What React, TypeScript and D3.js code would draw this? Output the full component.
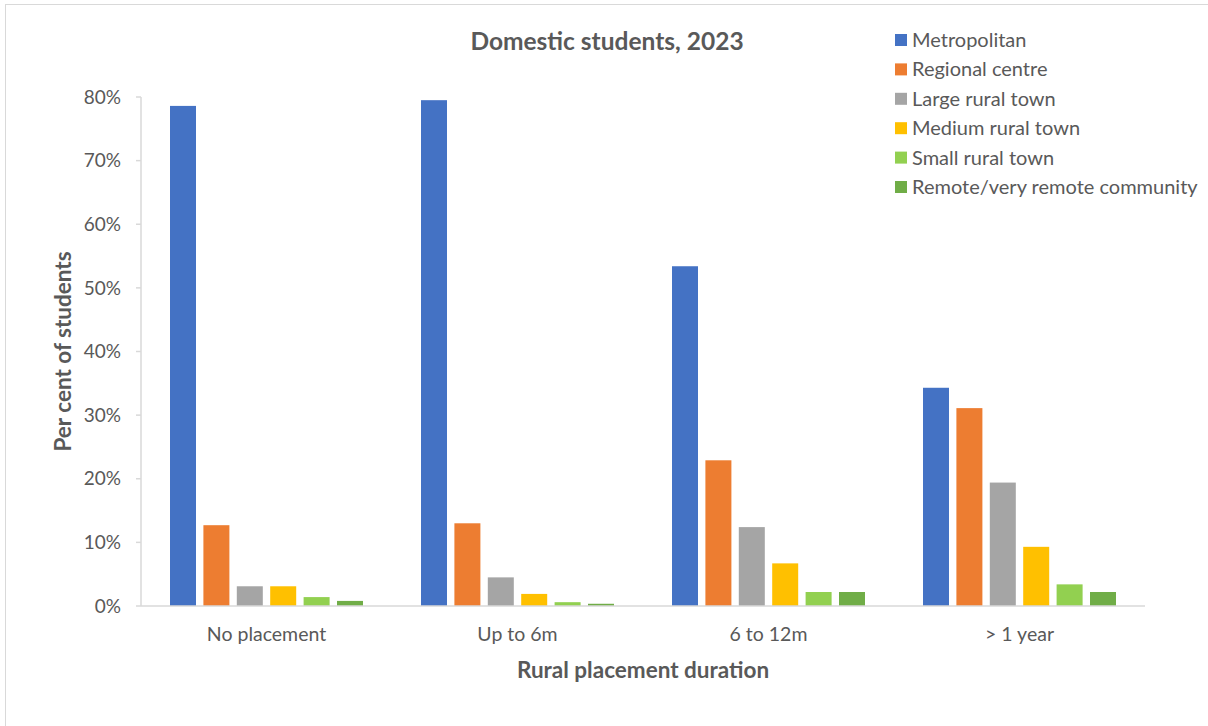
import React from "react";
import * as d3 from "d3";

const categories = ["No placement", "Up to 6m", "6 to 12m", "> 1 year"];
const seriesNames = [
  "Metropolitan",
  "Regional centre",
  "Large rural town",
  "Medium rural town",
  "Small rural town",
  "Remote/very remote community",
];
const seriesColors = ["#4472C4", "#ED7D31", "#A5A5A5", "#FFC000", "#92D050", "#70AD47"];
const metropolitan = [78.6, 79.5, 53.4, 34.3];
const regionalCentre = [12.7, 13.0, 22.9, 31.1];
const largeRural = [3.1, 4.5, 12.4, 19.4];
const mediumRural = [3.1, 1.9, 6.7, 9.3];
const smallRural = [1.4, 0.6, 2.2, 3.4];
const remote = [0.8, 0.35, 2.2, 2.2];
const yTicks = [0, 10, 20, 30, 40, 50, 60, 70, 80];

const seriesValues = [metropolitan, regionalCentre, largeRural, mediumRural, smallRural, remote];

const W = 1208;
const H = 726;
const left = 141;
const right = 1145;
const top = 97;
const bottom = 606;
const FONT = "Lato, 'Open Sans', sans-serif";
const TXT = "#595959";

export default function App() {
  const x = d3.scaleBand<string>().domain(categories).range([left, right]).paddingInner(0).paddingOuter(0);
  const y = d3.scaleLinear().domain([0, 80]).range([bottom, top]);
  const barW = 26;
  const step = 33.4;
  const groupW = step * (seriesNames.length - 1) + barW;

  return (
    <svg width={W} height={H} style={{ position: "absolute", left: 0, top: 0, background: "#fff" }}>
      <rect x={5.5} y={4.5} width={W + 10} height={H + 10} fill="#fff" stroke="#D9D9D9" strokeWidth={1} />
      <text x={607} y={50} textAnchor="middle" fontFamily={FONT} fontWeight="bold" fontSize={24.5} fill={TXT}>
        Domestic students, 2023
      </text>
      {/* y axis */}
      <line x1={left} x2={left} y1={top} y2={bottom} stroke="#D9D9D9" strokeWidth={1.5} />
      {yTicks.map((t) => (
        <g key={t}>
          <line x1={left - 5} x2={left} y1={y(t)} y2={y(t)} stroke="#D9D9D9" strokeWidth={1.5} />
          <text x={left - 20} y={y(t)} dy="0.35em" textAnchor="end" fontFamily={FONT} fontSize={19} fill={TXT}>
            {t}%
          </text>
        </g>
      ))}
      {/* bars */}
      {categories.map((c, ci) => {
        const cx = (x(c) as number) + x.bandwidth() / 2;
        const x0 = cx - groupW / 2;
        return (
          <g key={c}>
            {seriesValues.map((vals, si) => (
              <rect
                key={si}
                x={x0 + si * step}
                y={y(vals[ci])}
                width={barW}
                height={bottom - y(vals[ci])}
                fill={seriesColors[si]}
              />
            ))}
            <text x={cx} y={641} textAnchor="middle" fontFamily={FONT} fontSize={19.5} fill={TXT}>
              {c}
            </text>
          </g>
        );
      })}
      <line x1={left} x2={right} y1={bottom} y2={bottom} stroke="#D9D9D9" strokeWidth={1.5} />
      <text x={643} y={678} textAnchor="middle" fontFamily={FONT} fontWeight="bold" fontSize={22.5} fill={TXT}>
        Rural placement duration
      </text>
      <text
        transform={`translate(71, ${(top + bottom) / 2}) rotate(-90)`}
        textAnchor="middle"
        fontFamily={FONT}
        fontWeight="bold"
        fontSize={22.5}
        fill={TXT}
      >
        Per cent of students
      </text>
      {/* legend */}
      {seriesNames.map((n, i) => {
        const ly = 40 + i * 29.4;
        return (
          <g key={n}>
            <rect x={895} y={ly - 6} width={12} height={12} fill={seriesColors[i]} />
            <text x={912} y={ly} dy="0.35em" fontFamily={FONT} fontSize={20} fill={TXT}>
              {n}
            </text>
          </g>
        );
      })}
    </svg>
  );
}
